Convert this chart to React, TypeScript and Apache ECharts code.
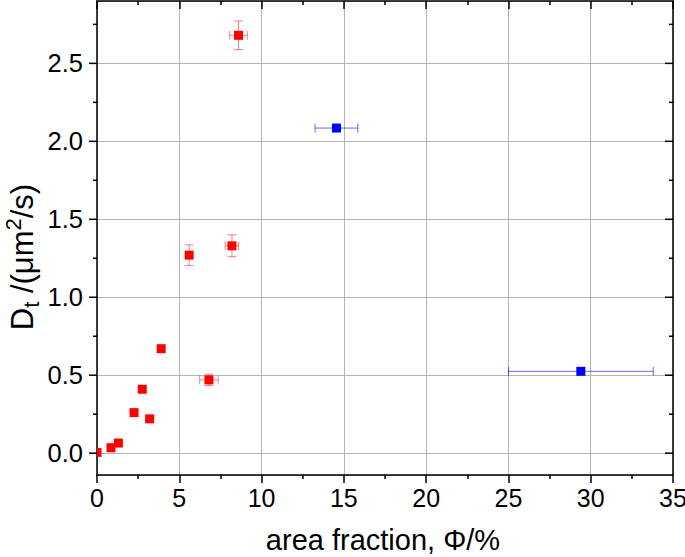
import React, { useEffect, useRef } from "react";
import * as echarts from "echarts";

// ---- data ----
const redX = [0.0, 0.85, 1.3, 2.25, 2.75, 3.2, 3.9, 5.6, 6.8, 8.2, 8.6];
const redY = [0.005, 0.035, 0.065, 0.26, 0.41, 0.22, 0.67, 1.27, 0.47, 1.33, 2.68];
const redXErr = [0, 0, 0, 0, 0, 0, 0, 0, 0.56, 0.41, 0.53];
const redYErr = [0, 0, 0, 0, 0, 0, 0, 0.066, 0.036, 0.07, 0.092];

const blueX = [14.55, 29.4];
const blueY = [2.085, 0.525];
const blueXErr = [1.3, 4.4];
const blueYErr = [0, 0];

const yMajorTicks = [0, 0.5, 1.0, 1.5, 2.0, 2.5];
const yMinorTicks = [0.25, 0.75, 1.25, 1.75, 2.25, 2.75];

const X_MIN = 0;
const X_MAX = 35;
const X_INTERVAL = 5;
const Y_MIN = -0.14;
const Y_MAX = 2.9;

const FONT = "'Liberation Sans', Arial, sans-serif";

function rows(xs: number[], ys: number[], exs: number[], eys: number[]) {
  return xs.map((x, i) => [x, ys[i], exs[i], eys[i]]);
}

function errRender(color: string) {
  return (params: any, api: any) => {
    const x = api.value(0);
    const y = api.value(1);
    const ex = api.value(2);
    const ey = api.value(3);
    const cap = 4.5;
    const st = { stroke: color, lineWidth: 1 };
    const children: any[] = [];
    if (ex > 0) {
      const a = api.coord([x - ex, y]);
      const b = api.coord([x + ex, y]);
      children.push({ type: "line", shape: { x1: a[0], y1: a[1], x2: b[0], y2: b[1] }, style: st });
      children.push({ type: "line", shape: { x1: a[0], y1: a[1] - cap, x2: a[0], y2: a[1] + cap }, style: st });
      children.push({ type: "line", shape: { x1: b[0], y1: b[1] - cap, x2: b[0], y2: b[1] + cap }, style: st });
    }
    if (ey > 0) {
      const a = api.coord([x, y - ey]);
      const b = api.coord([x, y + ey]);
      children.push({ type: "line", shape: { x1: a[0], y1: a[1], x2: b[0], y2: b[1] }, style: st });
      children.push({ type: "line", shape: { x1: a[0] - cap, y1: a[1], x2: a[0] + cap, y2: a[1] }, style: st });
      children.push({ type: "line", shape: { x1: b[0] - cap, y1: b[1], x2: b[0] + cap, y2: b[1] }, style: st });
    }
    return { type: "group", children };
  };
}

function pointRender(color: string) {
  return (params: any, api: any) => {
    const p = api.coord([api.value(0), api.value(1)]);
    const s = 9;
    return {
      type: "rect",
      shape: { x: p[0] - s / 2, y: p[1] - s / 2, width: s, height: s },
      style: { fill: color },
    };
  };
}

function yTickRender(params: any, api: any) {
  const v = api.value(1);
  const major = api.value(2) === 1;
  const len = major ? 8 : 4;
  const l = api.coord([X_MIN, v]);
  const r = api.coord([X_MAX, v]);
  const st = { stroke: "#000", lineWidth: 1.5 };
  return {
    type: "group",
    children: [
      { type: "line", shape: { x1: l[0] - len, y1: l[1], x2: l[0], y2: l[1] }, style: st },
      { type: "line", shape: { x1: r[0] - len, y1: r[1], x2: r[0], y2: r[1] }, style: st },
    ],
  };
}

export default function App() {
  const ref = useRef<HTMLDivElement>(null);

  useEffect(() => {
    document.body.style.margin = "0";
    const chart = echarts.init(ref.current!, null, { renderer: "svg" });

    const gridLine = { show: true, lineStyle: { color: "#b4b4b4", width: 1 } };
    const axisLine = { show: true, onZero: false, lineStyle: { color: "#000", width: 1.5 } };

    const tickData = [
      ...yMajorTicks.map((v) => [X_MIN, v, 1]),
      ...yMinorTicks.map((v) => [X_MIN, v, 0]),
    ];

    chart.setOption({
      animation: false,
      grid: { left: 97, right: 12, top: 1, bottom: 82, outerBoundsMode: "none", containLabel: false },
      xAxis: [
        {
          type: "value",
          position: "bottom",
          min: X_MIN,
          max: X_MAX,
          interval: X_INTERVAL,
          axisLine,
          axisTick: { show: true, inside: false, length: 8, lineStyle: { color: "#000", width: 1.5 } },
          minorTick: { show: true, splitNumber: 2, length: 4, lineStyle: { color: "#000", width: 1.5 } },
          splitLine: gridLine,
          axisLabel: { fontSize: 25, color: "#000", fontFamily: FONT, margin: 10 },
        },
        {
          type: "value",
          position: "top",
          min: X_MIN,
          max: X_MAX,
          interval: X_INTERVAL,
          axisLine,
          axisTick: { show: true, inside: true, length: 8, lineStyle: { color: "#000", width: 1.5 } },
          minorTick: { show: true, splitNumber: 2, length: 4, lineStyle: { color: "#000", width: 1.5 } },
          splitLine: { show: false },
          axisLabel: { show: false },
        },
      ],
      yAxis: [
        {
          type: "value",
          position: "left",
          min: Y_MIN,
          max: Y_MAX,
          splitNumber: 6,
          axisLine,
          axisTick: { show: false },
          splitLine: gridLine,
          axisLabel: {
            fontSize: 25.5,
            color: "#000",
            fontFamily: FONT,
            margin: 14,
            showMinLabel: false,
            showMaxLabel: false,
            formatter: (v: number) =>
              Math.abs(v * 2 - Math.round(v * 2)) < 1e-6 ? Math.abs(v).toFixed(1) : "",
          },
        },
        {
          type: "value",
          position: "right",
          min: Y_MIN,
          max: Y_MAX,
          axisLine,
          axisTick: { show: false },
          splitLine: { show: false },
          axisLabel: { show: false },
        },
      ],
      graphic: [
        {
          type: "text",
          x: 383,
          y: 540,
          style: {
            text: "area fraction, Φ/%",
            font: `29px ${FONT}`,
            fill: "#000",
            align: "center",
            verticalAlign: "middle",
          },
        },
        {
          type: "text",
          x: 22,
          y: 257,
          rotation: Math.PI / 2,
          style: {
            text: "{m|D}{s|t}{m| /(μm}{p|2}{m|/s)}",
            fill: "#000",
            align: "center",
            verticalAlign: "middle",
            rich: {
              m: { fontSize: 31, fontFamily: FONT, lineHeight: 40, fill: "#000" },
              s: { fontSize: 22, fontFamily: FONT, lineHeight: 24, verticalAlign: "bottom", fill: "#000" },
              p: { fontSize: 22, fontFamily: FONT, lineHeight: 24, verticalAlign: "top", fill: "#000" },
            },
          },
        },
      ],
      series: [
        {
          type: "custom",
          name: "yticks",
          silent: true,
          clip: false,
          xAxisIndex: 0,
          yAxisIndex: 0,
          renderItem: yTickRender,
          data: tickData,
          z: 5,
        },
        {
          type: "custom",
          name: "redErr",
          silent: true,
          clip: true,
          xAxisIndex: 0,
          yAxisIndex: 0,
          renderItem: errRender("rgba(255,0,0,0.5)"),
          data: rows(redX, redY, redXErr, redYErr),
        },
        {
          type: "custom",
          name: "blueErr",
          silent: true,
          clip: true,
          xAxisIndex: 0,
          yAxisIndex: 0,
          renderItem: errRender("rgba(0,0,255,0.6)"),
          data: rows(blueX, blueY, blueXErr, blueYErr),
        },
        {
          type: "custom",
          name: "red",
          silent: true,
          clip: true,
          xAxisIndex: 0,
          yAxisIndex: 0,
          renderItem: pointRender("#ff0000"),
          data: rows(redX, redY, redXErr, redYErr),
        },
        {
          type: "custom",
          name: "blue",
          silent: true,
          clip: true,
          xAxisIndex: 0,
          yAxisIndex: 0,
          renderItem: pointRender("#0000ff"),
          data: rows(blueX, blueY, blueXErr, blueYErr),
        },
      ],
    });

    return () => chart.dispose();
  }, []);

  return (
    <div
      ref={ref}
      style={{ position: "absolute", left: 0, top: 0, width: 685, height: 557 }}
    />
  );
}
